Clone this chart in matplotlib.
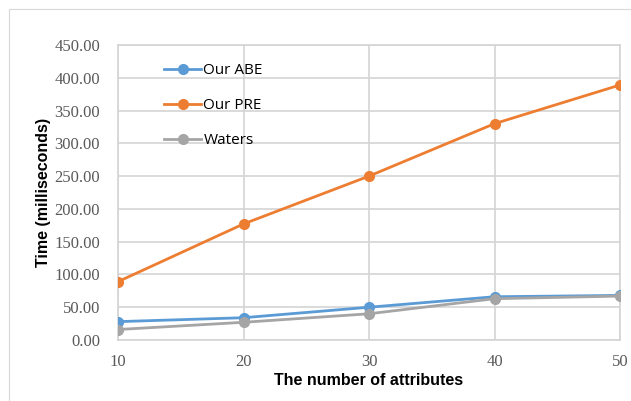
import matplotlib.pyplot as plt
from matplotlib.patches import Rectangle

# data
attributes = [10, 20, 30, 40, 50]
abe = [28, 34, 50, 66, 68]
pre = [89, 177, 250, 330, 389]
waters = [16, 27, 40, 63, 67]
y_ticks = [0, 50, 100, 150, 200, 250, 300, 350, 400, 450]

fig = plt.figure(figsize=(6.31, 4.01), dpi=100)
# light outer frame of the chart area (cut off at right and bottom)
fig.patches.append(Rectangle((9 / 631, -0.1), 1.2, 1 - 9 / 401 + 0.1,
                             transform=fig.transFigure, fill=False,
                             edgecolor='#d9d9d9', linewidth=0.8))

ax = fig.add_axes([118 / 631, 1 - 340 / 401, (620 - 118) / 631, (340 - 45) / 401])

ax.plot(attributes, abe, color='#5B9BD5', marker='o', markersize=7, linewidth=2, label='Our ABE', zorder=3)
ax.plot(attributes, pre, color='#ED7D31', marker='o', markersize=7, linewidth=2, label='Our PRE', zorder=3)
ax.plot(attributes, waters, color='#A5A5A5', marker='o', markersize=7, linewidth=2, label='Waters', zorder=3)

ax.set_xlim(10, 50)
ax.set_ylim(0, 450)
ax.set_xticks(attributes)
ax.set_yticks(y_ticks)
ax.set_yticklabels([f'{v:.2f}' for v in y_ticks])
ax.grid(True, color='#d4d4d4', linewidth=1.2)
ax.set_axisbelow(True)
for s in ax.spines.values():
    s.set_color('#d4d4d4')
    s.set_linewidth(1.2)
ax.tick_params(length=0, labelsize=12, labelcolor='#595959')
for lab in ax.get_xticklabels() + ax.get_yticklabels():
    lab.set_fontfamily('Liberation Serif')
ax.tick_params(axis='y', pad=13)
ax.tick_params(axis='x', pad=10)

ax.set_xlabel('The number of attributes', fontsize=11.5, fontweight='bold', family='Liberation Sans', labelpad=2)
ax.set_ylabel('Time (milliseconds)', fontsize=11.5, fontweight='bold', family='Liberation Sans', labelpad=2)

ax.legend(loc='upper left', bbox_to_anchor=(0.065, 0.985), frameon=False, labelspacing=1.3,
          handlelength=2.4, handletextpad=0.15, prop={'family': 'Open Sans', 'size': 11})

fig.savefig('out.png', dpi=100)
